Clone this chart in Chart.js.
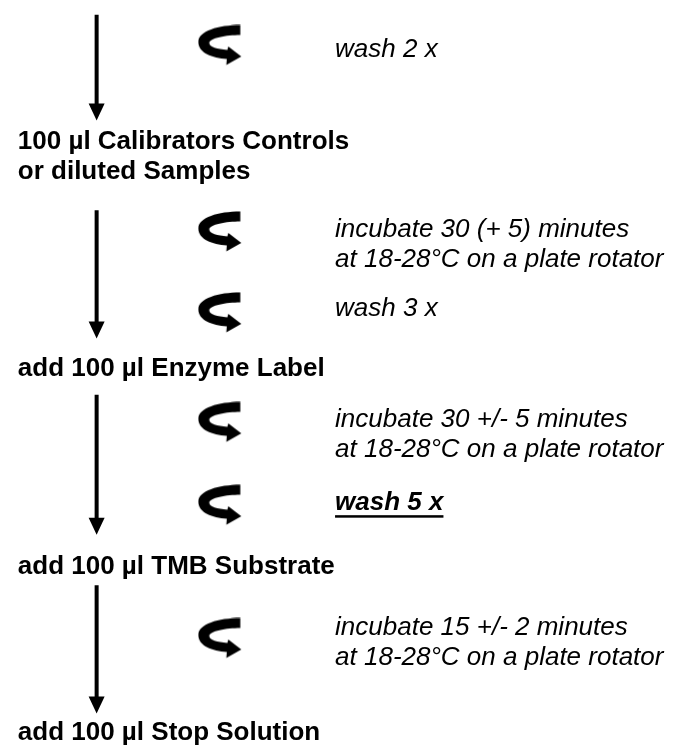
<!DOCTYPE html>
<html>
<head>
<meta charset="utf-8">
<script src="https://cdn.jsdelivr.net/npm/chart.js@4.4.1/dist/chart.umd.min.js"></script>
<style>
  html, body { margin: 0; padding: 0; background: #fff; }
  canvas { display: block; }
</style>
</head>
<body>
<canvas id="flow" width="677" height="751"></canvas>
<script>
// protocol steps (bold, left column) and actions between them (italic, right column)
const stepLabels = [
  ["100 µl Calibrators Controls", "or diluted Samples"],
  ["add 100 µl Enzyme Label"],
  ["add 100 µl TMB Substrate"],
  ["add 100 µl Stop Solution"],
];
const actionLabels = [
  ["wash 2 x"],
  ["incubate 30 (+ 5) minutes", "at 18-28°C on a plate rotator"],
  ["wash 3 x"],
  ["incubate 30 +/- 5 minutes", "at 18-28°C on a plate rotator"],
  ["wash 5 x"],
  ["incubate 15 +/- 2 minutes", "at 18-28°C on a plate rotator"],
];
const actionBold = [false, false, false, false, true, false];

// layout, in page pixels (y goes down)
const arrowX = 93;
const arrowTop = [10, 208, 395, 588];
const arrowTip = [117, 338, 537, 718];
const stepX = 13;
const stepY = [146, 376, 577, 745];
const iconX = 218;
const iconY = [41, 230, 312, 423, 507, 642];
const actionX = 335;
const actionY = [53, 235, 315, 428, 512, 638];

const HEAD_W = 16;
const HEAD_H = 17;
const LINE_GAP = 30;
const FONT = '"Liberation Sans", Arial, sans-serif';

// curved "rotate" arrow used as point style
function makeIcon() {
  const c = document.createElement("canvas");
  c.width = 44;
  c.height = 42;
  const g = c.getContext("2d");
  g.translate(0.5, 0.5);
  g.fillStyle = "#000";
  g.beginPath();
  g.moveTo(42, 0);
  g.lineTo(42, 10);
  g.bezierCurveTo(28, 10, 11, 13, 11, 18);
  g.bezierCurveTo(11, 22, 19, 24, 29, 25);
  g.lineTo(30, 21.5);
  g.lineTo(43, 31.5);
  g.lineTo(28, 40);
  g.lineTo(28.5, 34);
  g.bezierCurveTo(14, 33, 0, 28, 0, 17);
  g.bezierCurveTo(0, 6, 20, 0, 42, 0);
  g.closePath();
  g.fill();
  return c;
}

const arrowSets = arrowTop.map((top, i) => ({
  type: "line",
  data: [{ x: arrowX, y: top }, { x: arrowX, y: arrowTip[i] - HEAD_H + 1 }],
  borderColor: "#000",
  borderWidth: 4,
  borderCapStyle: "butt",
  pointRadius: 0,
  fill: false,
  clip: false,
  isArrow: true,
}));

const flowText = {
  id: "flowText",
  afterDatasetsDraw(chart) {
    const { ctx, scales } = chart;
    const px = (v) => scales.x.getPixelForValue(v);
    const py = (v) => scales.y.getPixelForValue(v);
    ctx.save();
    ctx.fillStyle = "#000";

    // arrow heads at the end of each shaft
    chart.data.datasets.forEach((ds, i) => {
      if (!ds.isArrow) return;
      const x = px(arrowX);
      const tip = py(arrowTip[i]);
      ctx.beginPath();
      ctx.moveTo(x - HEAD_W / 2, tip - HEAD_H);
      ctx.lineTo(x + HEAD_W / 2, tip - HEAD_H);
      ctx.lineTo(x, tip);
      ctx.closePath();
      ctx.fill();
    });

    ctx.textBaseline = "alphabetic";
    ctx.textAlign = "left";

    ctx.font = "bold 26px " + FONT;
    stepLabels.forEach((lines, i) => {
      lines.forEach((t, j) => ctx.fillText(t, px(stepX), py(stepY[i]) + j * LINE_GAP));
    });

    actionLabels.forEach((lines, i) => {
      ctx.font = (actionBold[i] ? "italic bold " : "italic ") + "26px " + FONT;
      lines.forEach((t, j) => {
        const x = px(actionX);
        const y = py(actionY[i]) + j * LINE_GAP;
        ctx.fillText(t, x, y);
        if (actionBold[i]) {
          const w = ctx.measureText(t).width;
          ctx.fillRect(x, y + 5, w, 2.5);
        }
      });
    });
    ctx.restore();
  },
};

function draw() {
  const icon = makeIcon();
  new Chart(document.getElementById("flow"), {
    type: "scatter",
    data: {
      datasets: [
        ...arrowSets,
        {
          data: iconY.map((y) => ({ x: iconX, y })),
          pointStyle: icon,
          showLine: false,
          clip: false,
        },
      ],
    },
    options: {
      responsive: false,
      animation: false,
      events: [],
      layout: { padding: 0 },
      plugins: { legend: { display: false }, tooltip: { enabled: false } },
      scales: {
        x: { type: "linear", min: 0, max: 677, display: false },
        y: { type: "linear", min: 0, max: 751, reverse: true, display: false },
      },
    },
    plugins: [flowText],
  });
}

Promise.all([
  document.fonts.load('bold 26px "Liberation Sans"'),
  document.fonts.load('italic 26px "Liberation Sans"'),
  document.fonts.load('italic bold 26px "Liberation Sans"'),
]).then(draw, draw);
</script>
</body>
</html>
